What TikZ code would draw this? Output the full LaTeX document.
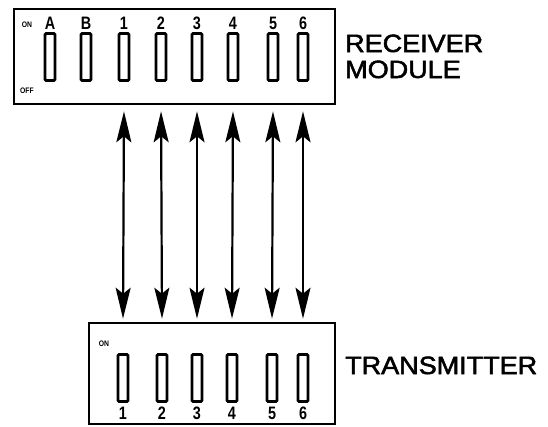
\documentclass[tikz,border=0pt]{standalone}
\usepackage{fontspec}
\setmainfont{Liberation Sans}
\newfontfamily\midfont{Liberation Sans}[FakeBold=2]
\usetikzlibrary{arrows.meta}
\begin{document}
\begin{tikzpicture}[x=1pt,y=-1pt,
  box/.style={draw,line width=2.6pt,inner sep=0pt},
  sw/.style={draw,line width=2.8pt,minimum width=10pt,minimum height=47pt,inner sep=0pt,rounded corners=1.2pt},
  lab/.style={font=\bfseries\fontsize{18}{18}\selectfont,xscale=0.8,inner sep=0pt,anchor=base},
  tiny/.style={font=\bfseries\fontsize{8}{8}\selectfont,xscale=0.85,inner sep=0pt},
  big/.style={font=\midfont\fontsize{25}{25}\selectfont,xscale=1.08,inner sep=0pt,anchor=base west},
  link/.style={line width=2.2pt,{Stealth[length=31pt,width=15pt,inset=6pt]}-{Stealth[length=31pt,width=15pt,inset=6pt]},shorten <=6pt,shorten >=3pt}]
\useasboundingbox (0,0) rectangle (548,426);
% receiver module
\node[box,minimum width=321pt,minimum height=95pt] (rbox) at (174.5,56.5) {};
\node[tiny] (ron) at (27,25) {ON};
\node[tiny] (roff) at (27,91) {OFF};
\foreach \n/\x in {A/50,B/86,1/124,2/161,3/197,4/233,5/273,6/303}{
  \node[sw] (t\n) at (\x,57) {};
  \node[lab] (tl\n) at (\x,29) {\n};
}
\node[big] (rec1) at (345,52) {RECEIVER};
\node[big] (rec2) at (345,78) {MODULE};
% transmitter
\node[box,minimum width=246pt,minimum height=101pt] (tbox) at (212,373.5) {};
\node[tiny] (ton) at (104,344) {ON};
\foreach \n/\x in {1/123,2/162,3/197,4/232,5/272,6/303}{
  \node[sw] (b\n) at (\x,378) {};
  \node[lab] (bl\n) at (\x,419) {\n};
}
\node[big] (trn) at (345,374) {TRANSMITTER};
% links
\foreach \n in {1,...,6}{
  \draw[link] (t\n |- rbox.south) -- (b\n |- tbox.north);
}
\end{tikzpicture}
\end{document}
